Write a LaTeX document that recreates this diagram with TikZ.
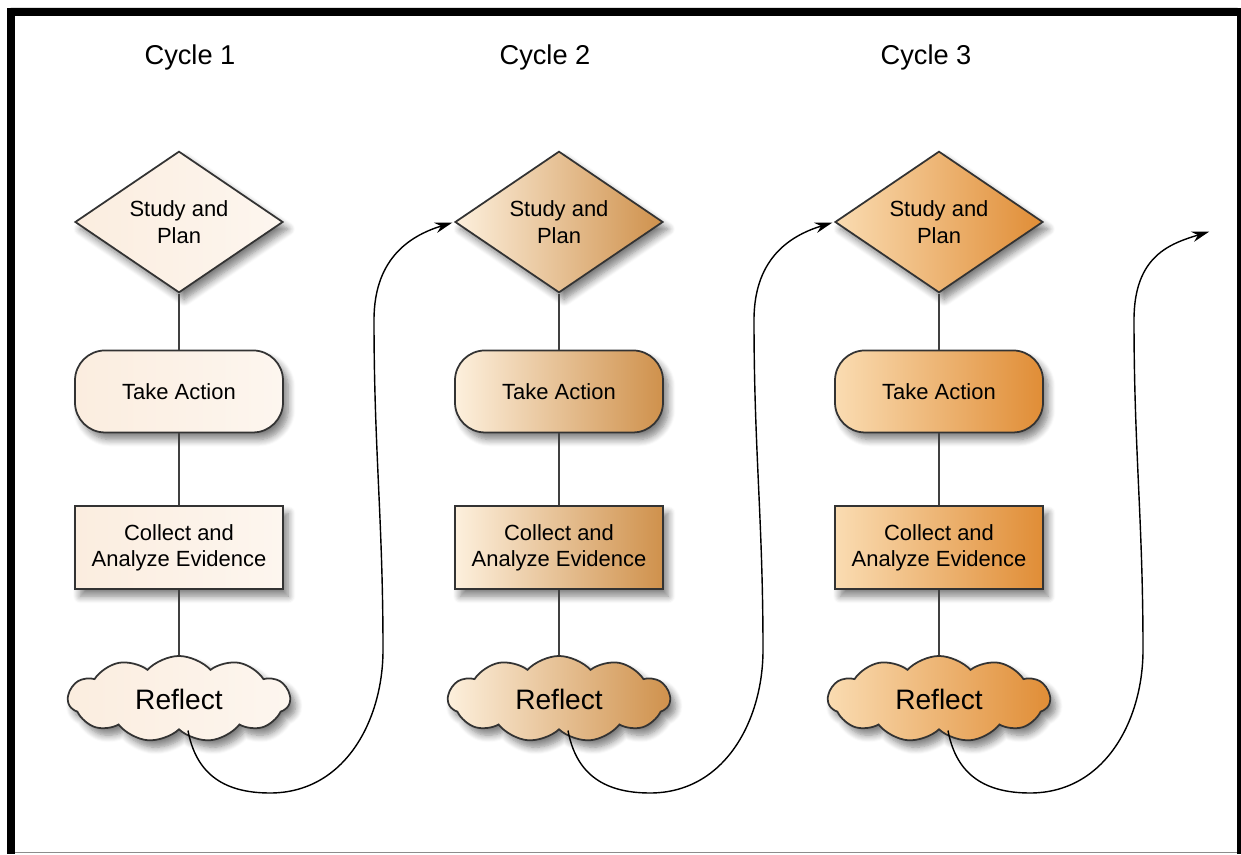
\documentclass[tikz,border=0pt]{standalone}
\usepackage{fontspec}
\setmainfont{Liberation Sans}
\usetikzlibrary{positioning,shapes.geometric,shapes.symbols,shadows.blur,arrows.meta}

\definecolor{paleL}{HTML}{FBEDDF}
\definecolor{paleR}{HTML}{FDF6EF}
\definecolor{tanL}{HTML}{FDF0DD}
\definecolor{tanR}{HTML}{CF914C}
\definecolor{orangeL}{HTML}{FADCB2}
\definecolor{orangeR}{HTML}{E08D36}

\begin{document}
\begin{tikzpicture}[
  box/.style={draw=black!80, line width=1pt, align=center,
    font=\fontsize{12.5}{15}\selectfont,
    blur shadow={shadow xshift=3pt, shadow yshift=-4pt, shadow blur steps=8, shadow blur radius=4pt, shadow opacity=50}},
  plan/.style={box, diamond, minimum width=4.16cm, minimum height=2.8cm, inner sep=0pt},
  act/.style={box, rectangle, rounded corners=0.6cm, minimum width=4.16cm, minimum height=1.64cm},
  evid/.style={box, rectangle, minimum width=4.16cm, minimum height=1.66cm, inner sep=1pt},
  refl/.style={box, cloud, cloud puffs=11, cloud puff arc=95, aspect=2.7,
    minimum width=4.44cm, minimum height=1.72cm, inner sep=0pt, font=\fontsize{16}{19}\selectfont},
  shade1/.style={left color=paleL, right color=paleR},
  shade2/.style={left color=tanL, right color=tanR},
  shade3/.style={left color=orangeL, right color=orangeR},
  link/.style={draw=black!75, line width=0.8pt},
  flow/.style={draw=black, line width=0.8pt, -{Stealth[length=10pt,width=6pt]}, shorten >=1pt},
  cycle/.style={font=\fontsize{15.5}{18}\selectfont}
]
\useasboundingbox (0,0) rectangle (24.82,17.08);

% frame
\fill[black] (0.14,0) rectangle (0.30,16.92);
\fill[black, rounded corners=2pt] (0.14,16.76) rectangle (24.82,16.92);
\fill[black] (24.74,0) rectangle (24.82,16.92);
\draw[black!45, line width=1pt] (0.30,0.03) -- (24.74,0.03);

% headings
\node[cycle] (h1) at (3.80,15.94) {Cycle 1};
\node[cycle] (h2) at (10.90,15.94) {Cycle 2};
\node[cycle] (h3) at (18.52,15.94) {Cycle 3};

% cycle 1
\node[plan, shade1] (d1) at (3.58,12.64) {Study and\\Plan};
\node[act, shade1, below=1.12cm of d1] (t1) {Take Action};
\node[evid, shade1, below=1.44cm of t1] (c1) {Collect and\\Analyze Evidence};
\node[refl, shade1, below=1.3cm of c1] (r1) {Reflect};

% cycle 2
\node[plan, shade2] (d2) at (11.18,12.64) {Study and\\Plan};
\node[act, shade2, below=1.12cm of d2] (t2) {Take Action};
\node[evid, shade2, below=1.44cm of t2] (c2) {Collect and\\Analyze Evidence};
\node[refl, shade2, below=1.3cm of c2] (r2) {Reflect};

% cycle 3
\node[plan, shade3] (d3) at (18.78,12.64) {Study and\\Plan};
\node[act, shade3, below=1.12cm of d3] (t3) {Take Action};
\node[evid, shade3, below=1.44cm of t3] (c3) {Collect and\\Analyze Evidence};
\node[refl, shade3, below=1.3cm of c3] (r3) {Reflect};
\coordinate (next) at (24.22,12.46);

\draw[link] (d1) -- (t1) (t1) -- (c1) (c1) -- (r1);
\draw[link] (d2) -- (t2) (t2) -- (c2) (c2) -- (r2);
\draw[link] (d3) -- (t3) (t3) -- (c3) (c3) -- (r3);

% loops to the next cycle
\draw[flow] ([xshift=0.18cm]r1.south) .. controls +(0.15,-0.8) and +(-1.0,0) .. (5.40,1.22)
  .. controls +(1.5,0) and +(0,-1.4) .. (7.66,4.08)
  .. controls +(0,2.6) and +(0,-2.6) .. (7.48,10.68)
  .. controls +(0,1.3) and +(-0.8,-0.25) .. (d2.west);
\draw[flow] ([xshift=0.18cm]r2.south) .. controls +(0.15,-0.8) and +(-1.0,0) .. (13.00,1.22)
  .. controls +(1.5,0) and +(0,-1.4) .. (15.26,4.08)
  .. controls +(0,2.6) and +(0,-2.6) .. (15.08,10.68)
  .. controls +(0,1.3) and +(-0.8,-0.25) .. (d3.west);
\draw[flow] ([xshift=0.18cm]r3.south) .. controls +(0.15,-0.8) and +(-1.0,0) .. (20.60,1.22)
  .. controls +(1.5,0) and +(0,-1.4) .. (22.86,4.08)
  .. controls +(0,2.6) and +(0,-2.6) .. (22.68,10.68)
  .. controls +(0,1.3) and +(-0.8,-0.25) .. (next);
\end{tikzpicture}
\end{document}
